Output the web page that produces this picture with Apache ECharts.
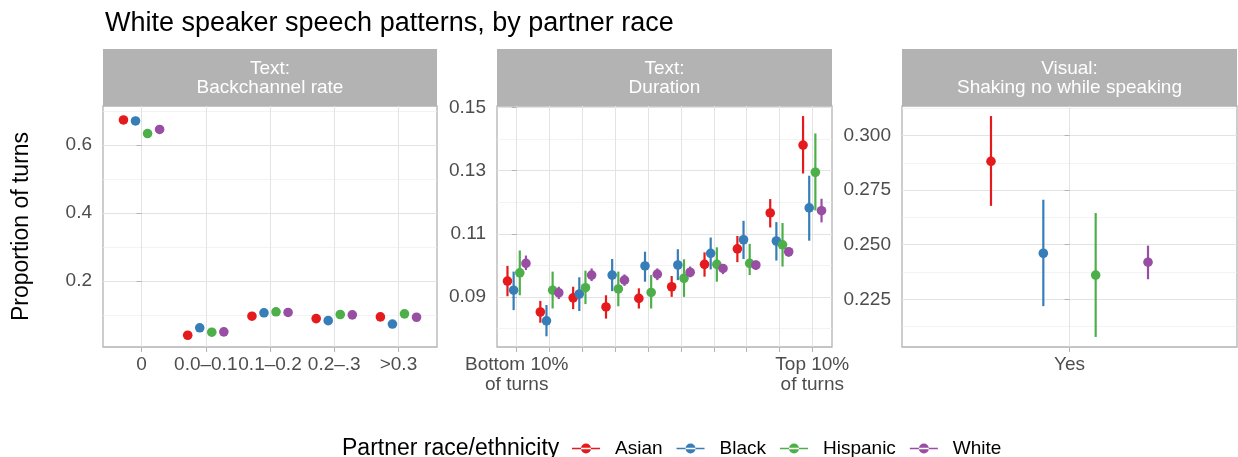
<!DOCTYPE html>
<html>
<head>
<meta charset="utf-8">
<script src="https://cdn.jsdelivr.net/npm/echarts@6/dist/echarts.min.js"></script>
<style>html,body{margin:0;padding:0;background:#fff}#c{width:1238px;height:457px}</style>
</head>
<body>
<div id="c"></div>
<script>
// ---------- data ----------
const races = ['Asian', 'Black', 'Hispanic', 'White'];

const bcCategories = ['0', '0.0\u20130.1', '0.1\u20130.2', '0.2\u2013.3', '>0.3'];
const bcAsian      = [0.674, 0.041, 0.097, 0.090, 0.095];
const bcAsianLo    = [0.669, 0.038, 0.093, 0.086, 0.090];
const bcAsianHi    = [0.679, 0.044, 0.101, 0.094, 0.100];
const bcBlack      = [0.671, 0.063, 0.107, 0.084, 0.074];
const bcBlackLo    = [0.666, 0.060, 0.103, 0.080, 0.070];
const bcBlackHi    = [0.676, 0.066, 0.111, 0.088, 0.078];
const bcHispanic   = [0.634, 0.050, 0.110, 0.102, 0.104];
const bcHispanicLo = [0.624, 0.047, 0.106, 0.098, 0.100];
const bcHispanicHi = [0.644, 0.053, 0.114, 0.106, 0.108];
const bcWhite      = [0.646, 0.051, 0.108, 0.101, 0.094];
const bcWhiteLo    = [0.641, 0.048, 0.104, 0.097, 0.090];
const bcWhiteHi    = [0.651, 0.054, 0.112, 0.105, 0.098];

const durCategories = ['Bottom 10%\nof turns', '', '', '', '', '', '', '', '', 'Top 10%\nof turns'];
const durAsian      = [0.0950, 0.0852, 0.0897, 0.0868, 0.0895, 0.0932, 0.1003, 0.1052, 0.1166, 0.1381];
const durAsianLo    = [0.0902, 0.0818, 0.0861, 0.0831, 0.0863, 0.0900, 0.0964, 0.1010, 0.1120, 0.1291];
const durAsianHi    = [0.0998, 0.0887, 0.0932, 0.0905, 0.0927, 0.0966, 0.1041, 0.1093, 0.1210, 0.1473];
const durBlack      = [0.0921, 0.0824, 0.0909, 0.0969, 0.0998, 0.1001, 0.1038, 0.1081, 0.1077, 0.1182];
const durBlackLo    = [0.0858, 0.0775, 0.0855, 0.0918, 0.0948, 0.0953, 0.0987, 0.1020, 0.1015, 0.1078];
const durBlackHi    = [0.0980, 0.0874, 0.0962, 0.1020, 0.1043, 0.1051, 0.1088, 0.1141, 0.1137, 0.1284];
const durHispanic   = [0.0976, 0.0921, 0.0929, 0.0925, 0.0914, 0.0959, 0.1003, 0.1006, 0.1065, 0.1295];
const durHispanicLo = [0.0905, 0.0863, 0.0877, 0.0870, 0.0863, 0.0900, 0.0948, 0.0969, 0.0996, 0.1174];
const durHispanicHi = [0.1047, 0.0980, 0.0983, 0.0980, 0.0969, 0.1019, 0.1057, 0.1068, 0.1134, 0.1418];
const durWhite      = [0.1006, 0.0913, 0.0969, 0.0953, 0.0972, 0.0978, 0.0990, 0.1001, 0.1043, 0.1173];
const durWhiteLo    = [0.0985, 0.0893, 0.0950, 0.0935, 0.0953, 0.0962, 0.0972, 0.0985, 0.1027, 0.1136];
const durWhiteHi    = [0.1031, 0.0932, 0.0990, 0.0971, 0.0990, 0.0996, 0.1004, 0.1015, 0.1056, 0.1211];

const shakeCategories = ['Yes'];
const shakeAsian      = [0.2882];
const shakeAsianLo    = [0.2678];
const shakeAsianHi    = [0.3089];
const shakeBlack      = [0.2461];
const shakeBlackLo    = [0.2219];
const shakeBlackHi    = [0.2706];
const shakeHispanic   = [0.2361];
const shakeHispanicLo = [0.2078];
const shakeHispanicHi = [0.2645];
const shakeWhite      = [0.2420];
const shakeWhiteLo    = [0.2342];
const shakeWhiteHi    = [0.2496];

const bcTicks = [0.2, 0.4, 0.6];
const bcMinor = [0.1, 0.3, 0.5, 0.7];
const durTicks = [0.09, 0.11, 0.13, 0.15];
const durMinor = [0.08, 0.10, 0.12, 0.14];
const shakeTicks = [0.225, 0.250, 0.275, 0.300];
const shakeMinor = [0.2125, 0.2375, 0.2625, 0.2875, 0.3125];

const stripTitles = ['Text:\nBackchannel rate', 'Text:\nDuration', 'Visual:\nShaking no while speaking'];

// ---------- styling / layout ----------
const colors = ['#E41A1C', '#377EB8', '#4DAF4A', '#984EA3'];
const FONT = '"Liberation Sans", Arial, Helvetica, sans-serif';
const grids = [
  {left: 103, top: 106, width: 334, height: 241},
  {left: 497, top: 106, width: 335, height: 241},
  {left: 902, top: 106, width: 335, height: 241}
];
const yRanges = [[0.0065, 0.715], [0.0741, 0.1505], [0.2032, 0.3135]];
const dodge = [-0.28125, -0.09375, 0.09375, 0.28125];

const panels = [
  {cats: bcCategories, ticks: bcTicks, minor: bcMinor, fmt: v => v.toFixed(1),
   vals: [[bcAsian, bcAsianLo, bcAsianHi], [bcBlack, bcBlackLo, bcBlackHi], [bcHispanic, bcHispanicLo, bcHispanicHi], [bcWhite, bcWhiteLo, bcWhiteHi]]},
  {cats: durCategories, ticks: durTicks, minor: durMinor, fmt: v => v.toFixed(2),
   vals: [[durAsian, durAsianLo, durAsianHi], [durBlack, durBlackLo, durBlackHi], [durHispanic, durHispanicLo, durHispanicHi], [durWhite, durWhiteLo, durWhiteHi]]},
  {cats: shakeCategories, ticks: shakeTicks, minor: shakeMinor, fmt: v => v.toFixed(3),
   vals: [[shakeAsian, shakeAsianLo, shakeAsianHi], [shakeBlack, shakeBlackLo, shakeBlackHi], [shakeHispanic, shakeHispanicLo, shakeHispanicHi], [shakeWhite, shakeWhiteLo, shakeWhiteHi]]}
];

const xAxes = [], yAxes = [], series = [], graphics = [];
panels.forEach((p, g) => {
  const n = p.cats.length;
  const idx = p.cats.map((_, i) => i);
  xAxes.push({
    type: 'value', gridIndex: g, min: -0.6, max: n - 1 + 0.6,
    axisLine: {show: false},
    axisTick: {show: true, customValues: idx, length: 5, lineStyle: {color: '#B3B3B3', width: 1}},
    axisLabel: {customValues: idx, formatter: v => p.cats[Math.round(v)], color: '#4D4D4D',
                fontFamily: FONT, fontSize: 19, lineHeight: 20, margin: 8},
    splitLine: {show: true, lineStyle: {color: '#E3E3E3', width: 1}}
  });
  yAxes.push({
    type: 'value', gridIndex: g, min: yRanges[g][0], max: yRanges[g][1],
    axisLine: {show: false},
    axisTick: {show: true, customValues: p.ticks, length: 5, lineStyle: {color: '#B3B3B3', width: 1}},
    axisLabel: {customValues: p.ticks, formatter: p.fmt, color: '#4D4D4D', fontFamily: FONT, fontSize: 19, margin: 11},
    splitLine: {show: true, lineStyle: {color: '#E3E3E3', width: 1}},
    name: g === 0 ? 'Proportion of turns' : '',
    nameLocation: 'middle', nameGap: 70, nameRotate: 90,
    nameTextStyle: {color: '#000', fontFamily: FONT, fontSize: 23}
  });
  yAxes.push({
    type: 'value', gridIndex: g, min: yRanges[g][0], max: yRanges[g][1], position: 'left',
    axisLine: {show: false},
    axisTick: {show: false, customValues: p.minor},
    axisLabel: {show: false, customValues: p.minor},
    splitLine: {show: true, lineStyle: {color: '#EEEEEE', width: 0.7}}
  });
  p.vals.forEach((arr, k) => {
    const data = idx.map(i => [i, arr[0][i], arr[1][i], arr[2][i]]);
    const off = dodge[k];
    series.push({
      type: 'custom', name: races[k], xAxisIndex: g, yAxisIndex: g * 2,
      itemStyle: {color: colors[k]}, color: colors[k],
      data: data, z: 5,
      encode: {x: 0, y: [1, 2, 3]},
      renderItem: function (params, api) {
        const x = api.value(0) + off;
        const pt = api.coord([x, api.value(1)]);
        const lo = api.coord([x, api.value(2)]);
        const hi = api.coord([x, api.value(3)]);
        return {
          type: 'group',
          children: [
            {type: 'line', shape: {x1: lo[0], y1: lo[1], x2: hi[0], y2: hi[1]},
             style: {stroke: colors[k], lineWidth: 2.2}},
            {type: 'circle', shape: {cx: pt[0], cy: pt[1], r: 4.8},
             style: {fill: colors[k]}}
          ]
        };
      }
    });
  });
  graphics.push({
    type: 'rect', x: grids[g].left, y: 49,
    shape: {width: grids[g].width, height: 57},
    style: {fill: '#B3B3B3'}, silent: true
  });
  graphics.push({
    type: 'text', x: grids[g].left + grids[g].width / 2, y: 78,
    style: {text: stripTitles[g], fill: '#FFFFFF', font: '19px ' + FONT,
            align: 'center', verticalAlign: 'middle', lineHeight: 19},
    silent: true
  });
});

const legendIcon = 'path://M0,4.2 H28 V5.8 H0 Z M9,5 A5,5 0 1 0 19,5 A5,5 0 1 0 9,5 Z';

const option = {
  animation: false,
  backgroundColor: '#fff',
  title: [
    {text: 'White speaker speech patterns, by partner race', left: 100, top: 5,
     textStyle: {color: '#000', fontFamily: FONT, fontSize: 27, fontWeight: 'normal'}},
    {text: 'Partner race/ethnicity', left: 337, top: 432,
     textStyle: {color: '#000', fontFamily: FONT, fontSize: 23, fontWeight: 'normal'}}
  ],
  legend: {
    data: races, left: 567, top: 434, itemWidth: 28, itemHeight: 10, itemGap: 14,
    icon: legendIcon,
    textStyle: {color: '#000', fontFamily: FONT, fontSize: 19, padding: [0, 0, 0, 10]},
    selectedMode: false
  },
  grid: grids.map(r => Object.assign({show: true, borderColor: '#B3B3B3', borderWidth: 1.3, backgroundColor: '#fff'}, r)),
  xAxis: xAxes,
  yAxis: yAxes,
  series: series,
  graphic: graphics
};

const chart = echarts.init(document.getElementById('c'), null, {renderer: 'canvas'});
chart.setOption(option);
</script>
</body>
</html>
